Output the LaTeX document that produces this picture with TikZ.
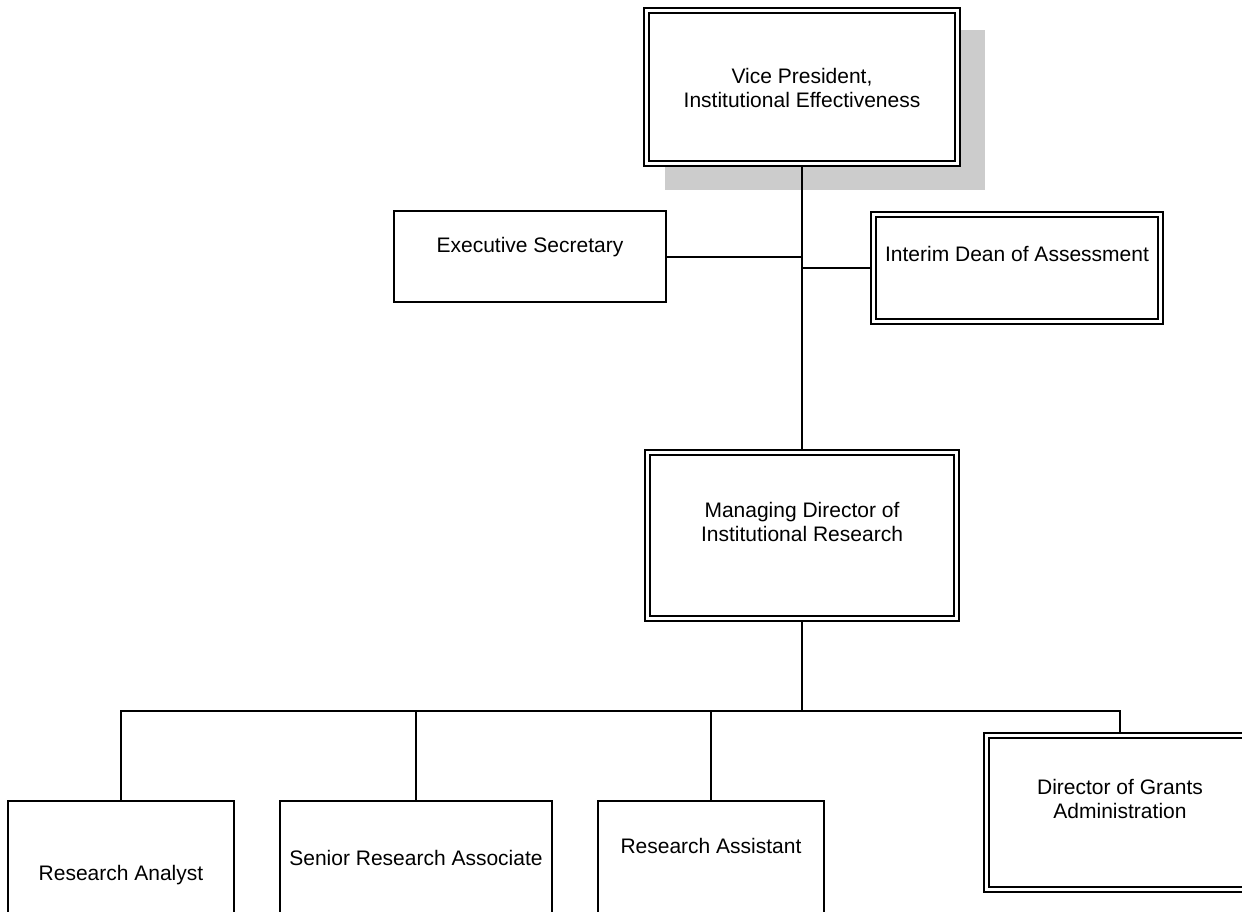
\documentclass[tikz,border=0pt]{standalone}
\usepackage{fontspec}
\setmainfont{Liberation Sans}
\usetikzlibrary{backgrounds}
\begin{document}
\begin{tikzpicture}[x=1pt,y=-1pt,
  every node/.style={font=\fontsize{21}{24}\selectfont},
  box/.style={draw, line width=2pt, fill=white, inner sep=0pt, rectangle},
  dbox/.style={box, double, double distance=3.3pt},
  conn/.style={line width=2pt},
  lbl/.style={align=center, inner sep=0pt},
  shadowbox/.style={fill=black!20, inner sep=0pt, rectangle}]
\useasboundingbox (0,0) rectangle (1242,912);
\clip (0,0) rectangle (1242,912);
% boxes
\node[dbox, minimum width=310.6pt, minimum height=152.6pt] (vp) at (802,87) {};
\node[box, minimum width=272pt, minimum height=91pt] (es) at (530,256.5) {};
\node[dbox, minimum width=286.6pt, minimum height=106.6pt] (dean) at (1017,268) {};
\node[dbox, minimum width=309.6pt, minimum height=165.6pt] (md) at (802,535.5) {};
\node[box, minimum width=226pt, minimum height=160pt] (ra) at (121,881) {};
\node[box, minimum width=272pt, minimum height=160pt] (sra) at (416,881) {};
\node[box, minimum width=226pt, minimum height=160pt] (rasst) at (711,881) {};
\node[dbox, minimum width=266.6pt, minimum height=153.6pt] (grants) at (1120,812.5) {};
\coordinate (bus) at (802,711);
% shadow and connectors
\begin{scope}[on background layer]
\node[shadowbox, minimum width=320pt, minimum height=160pt] (vpshadow) at (825,110) {};
\draw[conn] (vp.south) -- (md.north);
\draw[conn] (es.east) -- (es.east -| vp.south);
\draw[conn] (dean.west) -- (dean.west -| vp.south);
\draw[conn] (md.south) -- (bus);
\draw[conn] (ra.north) -- (ra.north |- bus) -- (grants.north |- bus) -- (grants.north);
\draw[conn] (sra.north) -- (sra.north |- bus);
\draw[conn] (rasst.north) -- (rasst.north |- bus);
\end{scope}
% texts
\node[lbl] (vpT) at (802,88) {Vice President,\\Institutional Effectiveness};
\node[lbl, anchor=base] (esT) at (530,252) {Executive Secretary};
\node[lbl, anchor=base] (deanT) at (1017,261.5) {Interim Dean of Assessment};
\node[lbl] (mdT) at (802,522) {Managing Director of\\Institutional Research};
\node[lbl, anchor=base] (raT) at (121,880.5) {Research Analyst};
\node[lbl, anchor=base] (sraT) at (416,865.5) {Senior Research Associate};
\node[lbl, anchor=base] (rasstT) at (711,853.5) {Research Assistant};
\node[lbl] (grantsT) at (1120,798.5) {Director of Grants\\Administration};
\end{tikzpicture}
\end{document}
